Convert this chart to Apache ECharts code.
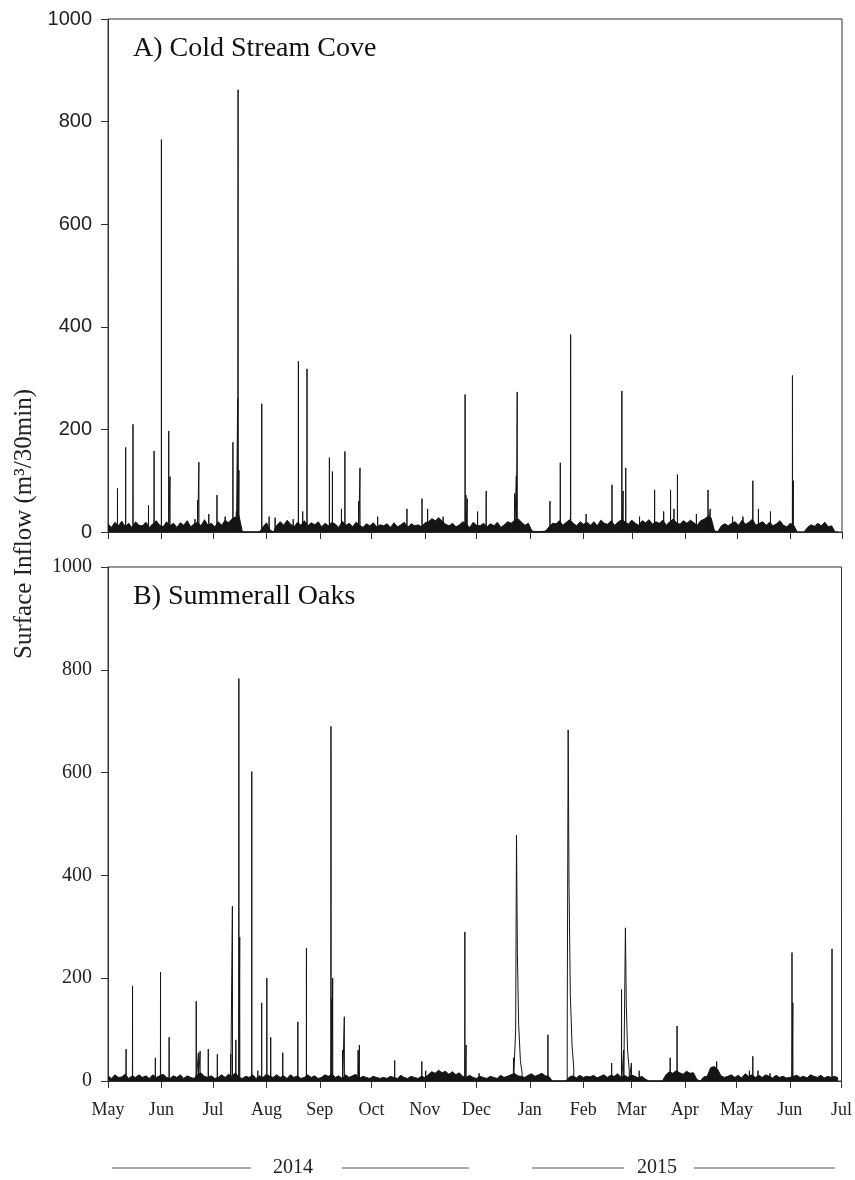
<!DOCTYPE html>
<html><head><meta charset="utf-8">
<script src="https://cdn.jsdelivr.net/npm/echarts@6/dist/echarts.min.js"></script>
<style>html,body{margin:0;padding:0;background:#fff}#c{width:855px;height:1180px}</style>
</head><body><div id="c"></div>
<script>
// ---- tick labels / categories ----
const monthNames = ['Jan','Feb','Mar','Apr','May','Jun','Jul','Aug','Sep','Oct','Nov','Dec'];
const yTicks = [0, 200, 400, 600, 800, 1000];
const panelTitles = ['A) Cold Stream Cove', 'B) Summerall Oaks'];
const yTitle = 'Surface Inflow (m³/30min)';
const yearLabels = ['2014', '2015'];

// ---- baseline flow, one value every 2 days starting 2014-05-01 ----
const baseA = [
  16, 9, 19, 12, 21, 10, 17, 8, 20, 13,      // May 1 - May 19
  12, 19, 9, 16, 22, 13, 10, 20, 12, 17,     // May 21 - Jun 8
  9, 18, 13, 22, 10, 16, 19, 12, 24, 13,     // Jun 10 - Jun 28
  17, 10, 20, 13, 23, 18, 26, 29, 32, 0,     // Jun 30 - Jul 18
  0, 0, 0, 0, 0, 10, 18, 4, 0, 13,           // Jul 20 - Aug 7
  20, 13, 23, 15, 10, 19, 13, 22, 12, 18,    // Aug 9 - Aug 27
  14, 20, 10, 17, 12, 19, 15, 9, 21, 13,     // Aug 29 - Sep 16
  17, 10, 19, 13, 9, 16, 12, 18, 10, 14,     // Sep 18 - Oct 6
  12, 16, 9, 18, 10, 14, 19, 9, 16, 12,      // Oct 8 - Oct 26
  14, 10, 18, 20, 26, 22, 28, 21, 15, 12,    // Oct 28 - Nov 15
  17, 10, 14, 20, 15, 9, 19, 13, 12, 17,     // Nov 17 - Dec 5
  10, 16, 12, 19, 9, 14, 20, 17, 23, 26,     // Dec 7 - Dec 25
  19, 13, 17, 2, 1, 1, 1, 2, 10, 17,         // Dec 27 - Jan 14
  16, 22, 13, 19, 24, 17, 12, 20, 15, 19,    // Jan 16 - Feb 3
  13, 20, 12, 23, 17, 15, 22, 13, 19, 24,    // Feb 5 - Feb 23
  20, 15, 23, 17, 13, 22, 18, 24, 15, 20,    // Feb 25 - Mar 15
  17, 23, 13, 20, 25, 18, 15, 22, 17, 23,    // Mar 17 - Apr 4
  18, 13, 22, 25, 30, 28, 2, 1, 12, 16,      // Apr 6 - Apr 24
  12, 17, 20, 13, 23, 15, 19, 25, 13, 17,    // Apr 26 - May 14
  20, 13, 19, 12, 16, 22, 13, 10, 17, 13,    // May 16 - Jun 3
  0, 0, 0, 9, 14, 11, 17, 12, 19, 10,        // Jun 5 - Jun 23
  12, 0, 0                                   // Jun 25 - Jun 29
];
const baseB = [
  10, 5, 12, 7, 8, 13, 5, 10, 7, 12,
  7, 10, 5, 12, 7, 10, 13, 7, 5, 10,
  7, 12, 5, 10, 7, 5, 13, 16, 9, 7,
  10, 5, 7, 12, 7, 13, 9, 16, 7, 5,
  9, 7, 12, 5, 10, 7, 13, 9, 7, 12,
  7, 10, 5, 12, 7, 10, 5, 7, 12, 7,
  10, 5, 7, 12, 9, 14, 7, 10, 5, 12,
  7, 10, 13, 5, 9, 7, 5, 9, 7, 5,
  7, 5, 9, 7, 5, 11, 7, 5, 9, 7,
  5, 9, 7, 12, 18, 15, 21, 16, 19, 13,
  18, 12, 16, 9, 7, 11, 7, 5, 9, 7,
  5, 9, 7, 5, 11, 7, 9, 12, 15, 10,
  9, 7, 11, 14, 9, 12, 15, 10, 9, 0,
  0, 0, 0, 0, 8, 10, 6, 11, 7, 9,
  8, 11, 6, 9, 12, 7, 11, 9, 14, 7,
  11, 7, 12, 9, 6, 9, 4, 0, 0, 0,
  0, 0, 12, 18, 15, 20, 16, 13, 19, 15,
  16, 3, 0, 8, 9, 26, 28, 23, 10, 7,
  9, 12, 7, 11, 6, 14, 9, 12, 7, 11,
  7, 12, 9, 6, 11, 7, 9, 6, 7, 9,
  11, 7, 9, 6, 12, 9, 7, 11, 6, 9,
  7, 9, 6
];

// ---- storm peaks (time, m3/30min) ----
const spikesA = [
  ['2014-05-06 12:00', 85], ['2014-05-11 06:00', 165], ['2014-05-15 12:00', 210],
  ['2014-05-24 12:00', 52], ['2014-05-27 18:00', 158], ['2014-06-01 00:00', 765],
  ['2014-06-05 06:00', 197], ['2014-06-06 00:00', 108], ['2014-06-20 12:00', 25],
  ['2014-06-22 00:00', 62], ['2014-06-22 18:00', 136], ['2014-06-28 12:00', 35],
  ['2014-07-03 06:00', 72], ['2014-07-08 00:00', 30], ['2014-07-12 12:00', 175],
  ['2014-07-14 12:00', 40], ['2014-07-15 06:00', 260], ['2014-07-15 12:00', 862],
  ['2014-07-16 00:00', 120], ['2014-07-29 06:00', 250], ['2014-08-02 12:00', 30],
  ['2014-08-06 00:00', 28], ['2014-08-16 12:00', 25], ['2014-08-19 12:00', 333],
  ['2014-08-22 00:00', 40], ['2014-08-24 12:00', 318], ['2014-09-06 12:00', 145],
  ['2014-09-08 06:00', 118], ['2014-09-13 12:00', 45], ['2014-09-15 12:00', 157],
  ['2014-09-23 12:00', 60], ['2014-09-24 06:00', 125], ['2014-10-04 12:00', 30],
  ['2014-10-21 12:00', 45], ['2014-10-30 06:00', 65], ['2014-11-02 12:00', 45],
  ['2014-11-11 12:00', 30], ['2014-11-24 06:00', 268], ['2014-11-24 18:00', 72],
  ['2014-11-25 12:00', 65], ['2014-12-01 12:00', 40], ['2014-12-06 12:00', 80],
  ['2014-12-23 00:00', 75], ['2014-12-24 00:00', 110], ['2014-12-24 12:00', 273],
  ['2015-01-12 12:00', 60], ['2015-01-18 12:00', 135], ['2015-01-24 12:00', 385],
  ['2015-02-02 12:00', 35], ['2015-02-17 12:00', 92], ['2015-02-23 06:00', 275],
  ['2015-02-24 00:00', 80], ['2015-02-25 12:00', 125], ['2015-03-05 12:00', 30],
  ['2015-03-14 06:00', 82], ['2015-03-19 12:00', 40], ['2015-03-23 12:00', 82],
  ['2015-03-25 12:00', 45], ['2015-03-27 12:00', 112], ['2015-04-07 12:00', 35],
  ['2015-04-14 06:00', 82], ['2015-04-15 12:00', 45], ['2015-04-28 12:00', 30],
  ['2015-05-04 12:00', 30], ['2015-05-10 06:00', 100], ['2015-05-13 12:00', 45],
  ['2015-05-20 12:00', 40], ['2015-06-02 06:00', 305], ['2015-06-02 18:00', 100]
];
const spikesB = [
  ['2014-05-11 12:00', 62], ['2014-05-15 06:00', 185], ['2014-05-28 12:00', 45],
  ['2014-05-31 12:00', 212], ['2014-06-05 12:00', 85], ['2014-06-21 06:00', 155],
  ['2014-06-22 12:00', 55], ['2014-06-23 12:00', 58], ['2014-06-28 06:00', 62],
  ['2014-07-03 12:00', 52], ['2014-07-11 06:00', 52], ['2014-07-12 06:00', 340],
  ['2014-07-14 06:00', 80], ['2014-07-16 00:00', 783], ['2014-07-16 12:00', 280],
  ['2014-07-23 12:00', 602], ['2014-07-27 00:00', 20], ['2014-07-29 06:00', 152],
  ['2014-08-01 06:00', 200], ['2014-08-03 12:00', 85], ['2014-08-10 12:00', 55],
  ['2014-08-19 06:00', 115], ['2014-08-24 06:00', 258], ['2014-09-07 12:00', 690],
  ['2014-09-08 00:00', 160], ['2014-09-08 12:00', 200], ['2014-09-14 06:00', 60],
  ['2014-09-15 06:00', 125], ['2014-09-23 06:00', 60], ['2014-09-24 00:00', 70],
  ['2014-10-14 12:00', 40], ['2014-10-30 06:00', 38], ['2014-11-01 12:00', 20],
  ['2014-11-24 06:00', 290], ['2014-11-25 00:00', 70], ['2014-12-02 12:00', 15],
  ['2014-12-22 12:00', 45], ['2015-01-11 12:00', 90], ['2015-02-17 12:00', 35],
  ['2015-02-23 06:00', 178], ['2015-02-24 12:00', 60], ['2015-03-01 00:00', 35],
  ['2015-03-05 12:00', 20], ['2015-03-23 12:00', 45], ['2015-03-27 12:00', 107],
  ['2015-04-19 12:00', 38], ['2015-05-08 12:00', 20], ['2015-05-10 12:00', 48],
  ['2015-05-13 12:00', 20], ['2015-05-20 12:00', 15], ['2015-06-02 06:00', 250],
  ['2015-06-02 18:00', 152], ['2015-06-25 12:00', 257]
];
// slow-receding events in panel B (rise, peak, recession)
const recessionB1 = [['2014-12-23 18:00', 100], ['2014-12-24 06:00', 478], ['2014-12-24 18:00', 250], ['2014-12-25 12:00', 110], ['2014-12-26 12:00', 40], ['2014-12-27 12:00', 15]];
const recessionB2 = [['2015-01-22 18:00', 150], ['2015-01-23 06:00', 683], ['2015-01-23 18:00', 380], ['2015-01-24 12:00', 170], ['2015-01-25 12:00', 70], ['2015-01-26 12:00', 25]];
const recessionB3 = [['2015-02-25 12:00', 298], ['2015-02-26 00:00', 150], ['2015-02-26 18:00', 60], ['2015-02-27 18:00', 20]];

// ---- helpers ----
function ts(s) {
  const [d, h] = s.split(' ');
  const [y, m, dd] = d.split('-').map(Number);
  const [hh, mm] = (h || '00:00').split(':').map(Number);
  return new Date(y, m - 1, dd, hh, mm).getTime();
}
function baseData(arr) {
  return arr.map((v, i) => [new Date(2014, 4, 1 + i * 2).getTime(), v]);
}
const EPS = 1.5 * 3600 * 1000;
function peakData(spikes, events) {
  const groups = spikes.map(p => [[ts(p[0]), p[1]]]);
  events.forEach(ev => groups.push(ev.map(p => [ts(p[0]), p[1]])));
  groups.sort((a, b) => a[0][0] - b[0][0]);
  const out = [];
  groups.forEach(g => {
    out.push([g[0][0] - EPS, 0]);
    g.forEach(p => out.push(p));
    out.push([g[g.length - 1][0] + EPS, 0]);
  });
  return out;
}

const xMin = new Date(2014, 4, 1).getTime();
const xMax = new Date(2015, 6, 1).getTime();
const INK = '#151515';
const AX = '#333';

function xAxis(gi, showLabels) {
  return {
    gridIndex: gi, type: 'time', min: xMin, max: xMax, splitNumber: 14,
    minInterval: 28 * 86400000, maxInterval: 31 * 86400000,
    axisLine: { show: true, lineStyle: { color: AX, width: 1 } },
    axisTick: { show: true, length: 7, lineStyle: { color: AX } },
    splitLine: { show: false },
    axisLabel: {
      show: showLabels, margin: 20, fontFamily: 'Liberation Serif', fontSize: 18, color: '#222',
      formatter: v => monthNames[new Date(v).getMonth()],
      showMinLabel: true, showMaxLabel: true, hideOverlap: false
    }
  };
}
function yAxis(gi, font) {
  return {
    gridIndex: gi, type: 'value', min: yTicks[0], max: yTicks[yTicks.length - 1], interval: 200,
    axisLine: { show: true, lineStyle: { color: AX, width: 1 } },
    axisTick: { show: true, length: 7, lineStyle: { color: AX } },
    splitLine: { show: false },
    axisLabel: { margin: 16, fontFamily: font, fontSize: 20, color: '#222', formatter: v => String(v) }
  };
}
function series(gi, base, spikes, events) {
  return [
    { type: 'line', xAxisIndex: gi, yAxisIndex: gi, data: baseData(base), showSymbol: false,
      lineStyle: { color: INK, width: 1 }, areaStyle: { color: INK, opacity: 1 }, silent: true },
    { type: 'line', xAxisIndex: gi, yAxisIndex: gi, data: peakData(spikes, events), showSymbol: false,
      lineStyle: { color: INK, width: 1 }, silent: true }
  ];
}

const chart = echarts.init(document.getElementById('c'), null, { renderer: 'canvas' });
chart.setOption({
  animation: false,
  backgroundColor: '#fff',
  grid: [
    { left: 108, top: 19, width: 734, height: 513, show: true, borderColor: AX, borderWidth: 1 },
    { left: 108, top: 567, width: 734, height: 514, show: true, borderColor: AX, borderWidth: 1 }
  ],
  xAxis: [xAxis(0, false), xAxis(1, true)],
  yAxis: [yAxis(0, 'Liberation Sans'), yAxis(1, 'Liberation Serif')],
  series: [].concat(
    series(0, baseA, spikesA, []),
    series(1, baseB, spikesB, [recessionB1, recessionB2, recessionB3])
  ),
  graphic: [
    { type: 'text', left: 133, top: 35, style: { text: panelTitles[0], font: '28px "Liberation Serif"', fill: '#111' } },
    { type: 'text', left: 133, top: 583, style: { text: panelTitles[1], font: '28px "Liberation Serif"', fill: '#111' } },
    { type: 'text', x: 24, y: 524, rotation: Math.PI / 2,
      style: { text: yTitle, font: '25px "Liberation Serif"', fill: '#222', align: 'center', verticalAlign: 'middle' } },
    { type: 'line', shape: { x1: 112, y1: 1168, x2: 251, y2: 1168 }, style: { stroke: '#555', lineWidth: 1 } },
    { type: 'line', shape: { x1: 342, y1: 1168, x2: 469, y2: 1168 }, style: { stroke: '#555', lineWidth: 1 } },
    { type: 'line', shape: { x1: 532, y1: 1168, x2: 624, y2: 1168 }, style: { stroke: '#555', lineWidth: 1 } },
    { type: 'line', shape: { x1: 694, y1: 1168, x2: 835, y2: 1168 }, style: { stroke: '#555', lineWidth: 1 } },
    { type: 'text', x: 293, y: 1168, style: { text: yearLabels[0], font: '20px "Liberation Serif"', fill: '#222', align: 'center', verticalAlign: 'middle' } },
    { type: 'text', x: 657, y: 1168, style: { text: yearLabels[1], font: '20px "Liberation Serif"', fill: '#222', align: 'center', verticalAlign: 'middle' } }
  ]
});
</script>
</body></html>
